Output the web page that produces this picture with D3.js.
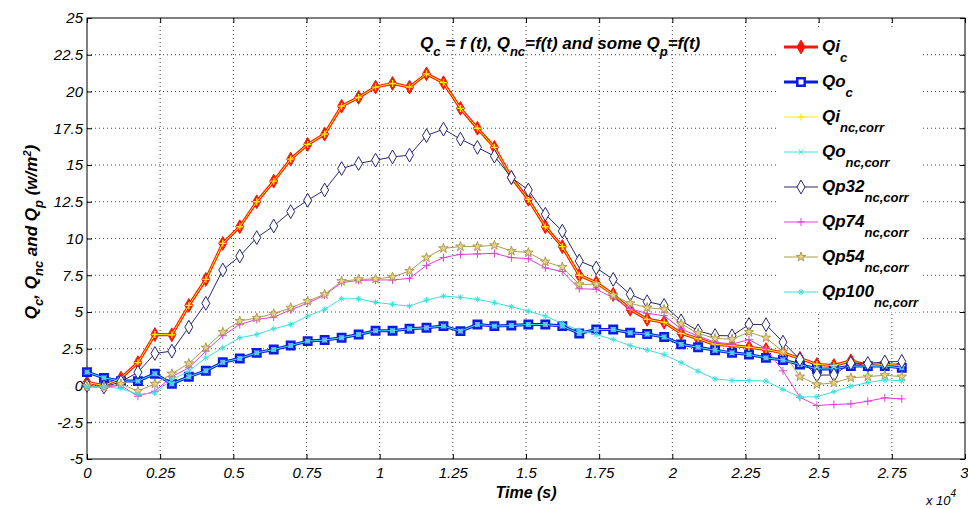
<!DOCTYPE html>
<html>
<head>
<meta charset="utf-8">
<script src="https://cdn.jsdelivr.net/npm/d3@7"></script>
<style>
    body { margin: 0; background: #fff; }
    svg text { font-family: Arial, "Liberation Sans", sans-serif; font-style: italic; fill: #000; }
    .grid line { stroke: #444; stroke-dasharray: 1,3; }
</style>
</head>
<body>
<div id="chart"></div>
<script>
// time, s
var time = [0, 580, 1160, 1740, 2320, 2900, 3480, 4060, 4640, 5220, 5800, 6380, 6960, 7540, 8120, 8700,
    9280, 9860, 10440, 11020, 11600, 12180, 12760, 13340, 13920, 14500, 15080, 15660, 16240, 16820,
    17400, 17980, 18560, 19140, 19720, 20300, 20880, 21460, 22040, 22620, 23200, 23780, 24360, 24940,
    25520, 26100, 26680, 27260, 27840];

var qiC = [0.2, 0.0, 0.5, 1.55, 3.47, 3.45, 5.45, 7.22, 9.67, 10.8, 12.5, 13.9, 15.4, 16.4, 17.1, 19.0,
    19.6, 20.3, 20.55, 20.3, 21.2, 20.6, 18.85, 17.5, 16.2, 14.15, 12.67, 10.8, 9.45, 7.5, 7.0, 6.2,
    5.18, 4.5, 4.3, 3.55, 3.18, 2.79, 2.72, 2.6, 2.45, 2.22, 1.85, 1.43, 1.36, 1.68, 1.36, 1.43, 1.36];
var qoC = [0.91, 0.52, 0.3, 0.3, 0.8, 0.11, 0.6, 1.0, 1.58, 1.84, 2.22, 2.45, 2.72, 3.02, 3.09, 3.25,
    3.47, 3.72, 3.73, 3.86, 3.93, 4.04, 3.7, 4.15, 4.04, 4.08, 4.15, 4.15, 4.04, 3.54, 3.81, 3.81,
    3.59, 3.5, 3.3, 2.8, 2.6, 2.4, 2.22, 2.11, 1.88, 1.74, 1.43, 1.13, 1.13, 1.32, 1.32, 1.32, 1.2];
var qiNc = [0.2, 0.0, 0.5, 1.55, 3.47, 3.45, 5.45, 7.22, 9.67, 10.8, 12.5, 13.9, 15.4, 16.4, 17.1, 19.0,
    19.6, 20.3, 20.55, 20.3, 21.2, 20.6, 18.85, 17.5, 16.2, 14.15, 12.67, 10.8, 9.45, 7.5, 7.0, 6.2,
    5.18, 4.5, 4.3, 3.55, 3.18, 2.79, 2.72, 2.6, 2.45, 2.22, 1.85, 1.43, 1.36, 1.68, 1.36, 1.43, 1.36];
var qoNc = [0.91, 0.52, 0.3, 0.3, 0.8, 0.11, 0.6, 1.0, 1.58, 1.84, 2.22, 2.45, 2.72, 3.02, 3.09, 3.25,
    3.47, 3.72, 3.73, 3.86, 3.93, 4.04, 3.7, 4.15, 4.04, 4.08, 4.15, 4.15, 4.04, 3.54, 3.81, 3.81,
    3.59, 3.5, 3.3, 2.8, 2.6, 2.4, 2.22, 2.11, 1.88, 1.74, 1.43, 1.13, 1.13, 1.32, 1.32, 1.32, 1.2];
var qp32 = [0.0, -0.1, 0.25, 0.9, 2.18, 2.34, 3.97, 5.59, 7.86, 8.8, 10.06, 10.85, 11.83, 12.6, 13.3,
    14.76, 15.1, 15.33, 15.55, 15.67, 17.0, 17.44, 16.76, 16.2, 15.6, 14.15, 13.3, 11.65, 10.5, 8.47,
    8.0, 7.22, 6.2, 5.7, 5.45, 4.4, 3.72, 3.4, 3.38, 4.15, 4.14, 2.95, 1.77, 0.7, 0.72, 1.52, 1.5, 1.6, 1.64];
var qp74 = [-0.1, -0.1, 0.0, -0.73, -0.39, 0.6, 1.2, 2.34, 3.4, 4.15, 4.5, 4.65, 5.15, 5.6, 6.15, 7.0,
    7.15, 7.18, 7.18, 7.29, 8.17, 8.7, 8.92, 8.95, 8.99, 8.7, 8.63, 8.0, 7.75, 6.58, 6.55, 5.97, 5.22,
    4.9, 4.75, 3.85, 3.36, 2.95, 2.82, 3.12, 2.5, 1.0, -0.8, -1.36, -1.29, -1.25, -1.07, -0.84, -0.91];
var qp54 = [-0.05, -0.1, 0.1, -0.38, 0.11, 0.8, 1.5, 2.57, 3.63, 4.38, 4.6, 4.88, 5.29, 5.74, 6.2, 7.1,
    7.22, 7.25, 7.38, 7.79, 8.7, 9.33, 9.45, 9.45, 9.54, 9.15, 9.04, 8.42, 8.06, 6.88, 6.88, 6.13, 5.59,
    5.3, 5.18, 4.2, 3.55, 3.2, 3.15, 3.63, 3.25, 2.3, 0.6, 0.07, 0.18, 0.52, 0.6, 0.7, 0.6];
var qp100 = [-0.1, -0.1, -0.2, -0.6, -0.5, 0.4, 0.97, 1.88, 2.57, 3.25, 3.47, 3.86, 4.15, 4.72, 5.18, 5.9,
    5.9, 5.66, 5.52, 5.4, 5.81, 6.08, 6.0, 5.86, 5.63, 5.36, 5.06, 4.72, 4.22, 3.75, 3.47, 3.13, 2.72,
    2.42, 2.1, 1.55, 0.97, 0.45, 0.34, 0.34, 0.3, -0.27, -0.78, -0.77, -0.42, -0.05, 0.2, 0.38, 0.32];

var legendMain = ['Qi', 'Qo', 'Qi', 'Qo', 'Qp32', 'Qp74', 'Qp54', 'Qp100'];
var legendSub = ['c', 'c', 'nc,corr', 'nc,corr', 'nc,corr', 'nc,corr', 'nc,corr', 'nc,corr'];

var xTicks = [0, 2500, 5000, 7500, 10000, 12500, 15000, 17500, 20000, 22500, 25000, 27500, 30000];
var xTickLabels = ['0', '0.25', '0.5', '0.75', '1', '1.25', '1.5', '1.75', '2', '2.25', '2.5', '2.75', '3'];
var yTicks = [-5, -2.5, 0, 2.5, 5, 7.5, 10, 12.5, 15, 17.5, 20, 22.5, 25];
var yTickLabels = ['-5', '-2.5', '0', '2.5', '5', '7.5', '10', '12.5', '15', '17.5', '20', '22.5', '25'];

var W = 968, H = 509;
var L = 87, R = 965, T = 18, B = 459;

var x = d3.scaleLinear().domain([0, 30000]).range([L, R]);
var y = d3.scaleLinear().domain([-5, 25]).range([B, T]);

var svg = d3.select('#chart').append('svg')
    .attr('width', W)
    .attr('height', H);

svg.append('rect')
    .attr('width', W)
    .attr('height', H)
    .attr('fill', '#fff');

// grid
svg.append('g')
    .attr('class', 'grid')
    .selectAll('line')
    .data(xTicks.slice(1, -1))
    .enter().append('line')
    .attr('x1', function(d) { return x(d); })
    .attr('x2', function(d) { return x(d); })
    .attr('y1', T)
    .attr('y2', B);

svg.append('g')
    .attr('class', 'grid')
    .selectAll('line')
    .data(yTicks.slice(1, -1))
    .enter().append('line')
    .attr('x1', L)
    .attr('x2', R)
    .attr('y1', function(d) { return y(d); })
    .attr('y2', function(d) { return y(d); });

// axes (ticks pointing inside, matlab style)
function tickFmt(ticks, labels) {
    return function(d) { return labels[ticks.indexOf(d)]; };
}

var xAxis = svg.append('g')
    .attr('transform', 'translate(0,' + B + ')')
    .call(d3.axisBottom(x).tickValues(xTicks).tickFormat(tickFmt(xTicks, xTickLabels))
        .tickSizeInner(-5).tickSizeOuter(0).tickPadding(6));
var yAxis = svg.append('g')
    .attr('transform', 'translate(' + L + ',0)')
    .call(d3.axisLeft(y).tickValues(yTicks).tickFormat(tickFmt(yTicks, yTickLabels))
        .tickSizeInner(-5).tickSizeOuter(0).tickPadding(4));
svg.append('g')
    .attr('transform', 'translate(0,' + T + ')')
    .call(d3.axisTop(x).tickValues(xTicks).tickFormat('').tickSizeInner(-5).tickSizeOuter(0));
svg.append('g')
    .attr('transform', 'translate(' + R + ',0)')
    .call(d3.axisRight(y).tickValues(yTicks).tickFormat('').tickSizeInner(-5).tickSizeOuter(0));

svg.selectAll('.domain').remove();
svg.selectAll('.tick line').attr('stroke', '#000');
xAxis.selectAll('text').style('font-size', '15px').attr('dy', '0.85em');
// last label sits at the window edge: keep it inside
xAxis.selectAll('text').filter(function(d) { return d === 30000; }).attr('text-anchor', 'end').attr('dx', 3);
yAxis.selectAll('text').style('font-size', '15px');

svg.append('rect')
    .attr('x', L)
    .attr('y', T)
    .attr('width', R - L)
    .attr('height', B - T)
    .attr('fill', 'none')
    .attr('stroke', '#000')
    .attr('stroke-width', 1);

// markers
function plusPath(s) {
    return 'M' + (-s) + ',0H' + s + 'M0,' + (-s) + 'V' + s;
}
function crossPath(s) {
    return 'M' + (-s) + ',' + (-s) + 'L' + s + ',' + s + 'M' + (-s) + ',' + s + 'L' + s + ',' + (-s);
}
function starPath(s) {
    return plusPath(s) + crossPath(s * 0.7);
}

var series = [
    { values: qiC,  color: '#f21a0a', width: 3, marker: d3.symbol(d3.symbolDiamond, 55)(), fill: '#f21a0a', mw: 1 },
    { values: qoC,  color: '#0a1be6', width: 3, marker: d3.symbol(d3.symbolSquare, 55)(), fill: '#7fa0ff', mw: 2.5 },
    { values: qiNc, color: '#ffee00', width: 1, marker: plusPath(3.5), fill: 'none', mw: 1.3 },
    { values: qoNc, color: '#40e0e0', width: 1, marker: crossPath(2.5), fill: 'none', mw: 1 },
    { values: qp32, color: '#262673', width: 1, marker: d3.symbol(d3.symbolDiamond, 55)(), fill: '#fff', mw: 1 },
    { values: qp74, color: '#e040d8', width: 1, marker: plusPath(4), fill: 'none', mw: 1 },
    { values: qp54, color: '#b09a55', width: 1, marker: d3.symbol(d3.symbolStar, 28)(), fill: '#e8d488', mw: 1 },
    { values: qp100, color: '#40dede', width: 1, marker: starPath(3), fill: 'none', mw: 1 }
];

var line = d3.line()
    .x(function(d, i) { return x(time[i]); })
    .y(function(d) { return y(d); });

series.forEach(function(s) {
    var g = svg.append('g');
    g.append('path')
        .attr('d', line(s.values))
        .attr('fill', 'none')
        .attr('stroke', s.color)
        .attr('stroke-width', s.width)
        .attr('stroke-linejoin', 'round');
    g.selectAll('path.m')
        .data(s.values)
        .enter().append('path')
        .attr('class', 'm')
        .attr('d', s.marker)
        .attr('transform', function(d, i) { return 'translate(' + x(time[i]) + ',' + y(d) + ')'; })
        .attr('fill', s.fill)
        .attr('stroke', s.color)
        .attr('stroke-width', s.mw);
});

// legend
var legend = svg.append('g');
legend.append('rect')
    .attr('x', 777)
    .attr('y', 27)
    .attr('width', 143)
    .attr('height', 285)
    .attr('fill', '#fff');

series.forEach(function(s, i) {
    var ly = 47 + i * 35;
    legend.append('line')
        .attr('x1', 784).attr('x2', 818)
        .attr('y1', ly).attr('y2', ly)
        .attr('stroke', s.color)
        .attr('stroke-width', s.width);
    legend.append('path')
        .attr('d', s.marker)
        .attr('transform', 'translate(801,' + ly + ')')
        .attr('fill', s.fill === '#7fa0ff' ? '#fff' : s.fill)
        .attr('stroke', s.color)
        .attr('stroke-width', s.mw);
    var t = legend.append('text')
        .attr('x', 822)
        .attr('y', ly + 5)
        .style('font-size', '17px')
        .style('font-weight', 'bold');
    t.append('tspan').text(legendMain[i]);
    t.append('tspan').attr('dy', 10).style('font-size', '13px').text(legendSub[i]);
});

// title
var title = svg.append('text')
    .attr('x', 420)
    .attr('y', 49)
    .style('font-size', '17px')
    .style('font-weight', 'bold');
title.append('tspan').text('Q');
title.append('tspan').attr('dy', 7).style('font-size', '13px').text('c');
title.append('tspan').attr('dy', -7).text(' = f (t), Q');
title.append('tspan').attr('dy', 7).style('font-size', '13px').text('nc');
title.append('tspan').attr('dy', -7).text('=f(t) and some Q');
title.append('tspan').attr('dy', 7).style('font-size', '13px').text('p');
title.append('tspan').attr('dy', -7).text('=f(t)');

// axis labels
svg.append('text')
    .attr('x', (L + R) / 2)
    .attr('y', 498)
    .attr('text-anchor', 'middle')
    .style('font-size', '16px')
    .style('font-weight', 'bold')
    .text('Time (s)');

var mult = svg.append('text')
    .attr('x', 926)
    .attr('y', 505)
    .style('font-size', '13px');
mult.append('tspan').text('x 10');
mult.append('tspan').attr('dy', -8).style('font-size', '10px').text('4');

var ylab = svg.append('text')
    .attr('transform', 'translate(37,232) rotate(-90)')
    .attr('text-anchor', 'middle')
    .style('font-size', '17px')
    .style('font-weight', 'bold');
ylab.append('tspan').text('Q');
ylab.append('tspan').attr('dy', 6).style('font-size', '13px').text('c');
ylab.append('tspan').attr('dy', -6).text(', Q');
ylab.append('tspan').attr('dy', 6).style('font-size', '13px').text('nc');
ylab.append('tspan').attr('dy', -6).text(' and Q');
ylab.append('tspan').attr('dy', 6).style('font-size', '13px').text('p');
ylab.append('tspan').attr('dy', -6).text(' (w/m');
ylab.append('tspan').attr('dy', -6).style('font-size', '11px').text('2');
ylab.append('tspan').attr('dy', 6).text(')');
</script>
</body>
</html>
